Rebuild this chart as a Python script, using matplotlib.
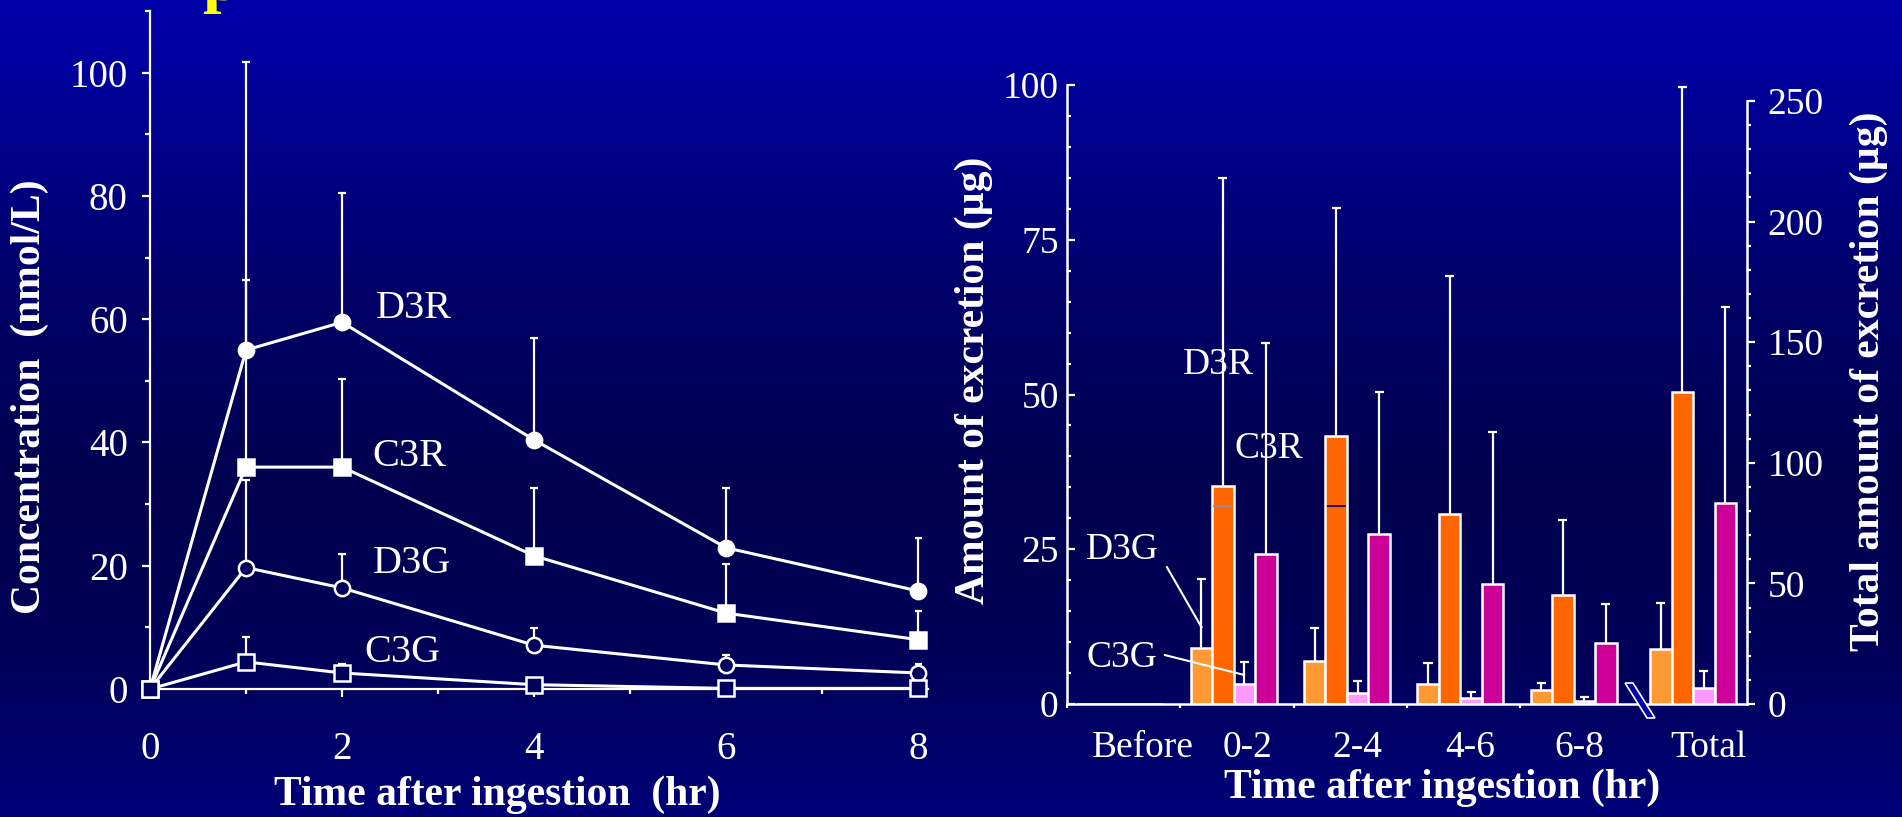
import numpy as np
import matplotlib.pyplot as plt
from matplotlib.patches import Polygon
from matplotlib.ticker import MultipleLocator, FixedLocator, FixedFormatter

plt.rcParams['font.family'] = ['Liberation Serif', 'DejaVu Serif']

# plasma concentration (nmol/L), mean and SD
time_hr = [0, 1, 2, 4, 6, 8]
d3r_conc = [0, 55.0, 59.5, 40.4, 22.9, 15.9]
d3r_conc_sd = [0, 46.8, 21.0, 16.6, 9.7, 8.6]
c3r_conc = [0, 36.0, 36.0, 21.6, 12.3, 8.0]
c3r_conc_sd = [0, 30.3, 14.3, 11.0, 8.0, 4.7]
d3g_conc = [0, 19.7, 16.4, 7.1, 3.9, 2.6]
d3g_conc_sd = [0, 14.2, 5.5, 2.8, 1.6, 1.4]
c3g_conc = [0, 4.4, 2.6, 0.7, 0.1, 0.1]
c3g_conc_sd = [0, 4.1, 1.4, 0.8, 0.3, 0.2]

# urinary excretion (ug) per collection period
periods = ['Before', '0-2', '2-4', '4-6', '6-8']
d3g_urine = [0, 9.0, 7.0, 3.2, 2.3]
d3g_urine_sd = [0, 11.2, 5.3, 3.4, 1.1]
d3r_urine = [0, 35.2, 43.3, 30.7, 17.6]
d3r_urine_sd = [0, 49.8, 36.8, 38.5, 12.1]
c3g_urine = [0, 3.2, 1.8, 1.0, 0.5]
c3g_urine_sd = [0, 3.6, 1.9, 0.9, 0.6]
c3r_urine = [0, 24.2, 27.5, 19.4, 9.8]
c3r_urine_sd = [0, 34.1, 22.9, 24.6, 6.3]

# total excretion (ug), right-hand scale
total_names = ['D3G', 'D3R', 'C3G', 'C3R']
total_urine = [22.8, 129.5, 6.6, 83.4]
total_urine_sd = [19.1, 126.5, 7.1, 81.3]

W, H = 1902, 817
WHITE = 'white'
bar_colors = ['#ff9933', '#ff6600', '#ff99ff', '#cc0099']


def up_err(ax, x, y, sd, cap, lw=1.6, z=1):
    x = np.asarray(x, float)
    top = np.asarray(y, float) + np.asarray(sd, float)
    ax.vlines(x, y, top, color=WHITE, lw=lw, zorder=z, clip_on=False)
    ax.hlines(top, x - cap, x + cap, color=WHITE, lw=lw, zorder=z, clip_on=False)


fig = plt.figure(figsize=(W / 100, H / 100), dpi=100)

# blue slide background
bg = fig.add_axes([0, 0, 1, 1], zorder=-10)
pos = np.linspace(0, 1, 400)
blue = np.interp(pos, [0, 0.12, 0.35, 0.6, 0.8, 1.0], [170, 150, 105, 78, 88, 120])
grad = np.zeros((400, 1, 3))
grad[:, 0, 2] = blue / 255
bg.imshow(grad, aspect='auto', extent=[0, 1, 0, 1], origin='upper')
bg.set_axis_off()

# heading letter running off the top edge
fig.text(202 / W, 1.0, 'p', color='#ffff00', fontsize=48, fontweight='bold',
         va='baseline', ha='left')

# ---- left: plasma concentration ----
ax1 = fig.add_axes([150 / W, (H - 689) / H, (928 - 150) / W, (689 - 11) / H])
ax1.set_facecolor('none')
ax1.set_xlim(0, 8.1)
ax1.set_ylim(0, 110)
for s in ['top', 'right']:
    ax1.spines[s].set_visible(False)
for s in ['left', 'bottom']:
    ax1.spines[s].set_color(WHITE)
    ax1.spines[s].set_linewidth(1.6)
ax1.set_xticks([0, 2, 4, 6, 8])
ax1.xaxis.set_minor_locator(MultipleLocator(1))
ax1.set_yticks([0, 20, 40, 60, 80, 100])
ax1.yaxis.set_minor_locator(MultipleLocator(10))
ax1.tick_params(colors=WHITE, width=1.6, length=6, labelsize=28)
ax1.tick_params(which='minor', colors=WHITE, width=1.6, length=3.5)
ax1.tick_params(axis='x', pad=24)
ax1.tick_params(axis='y', pad=10)

series = [
    (d3r_conc, d3r_conc_sd, 'o', WHITE),
    (c3r_conc, c3r_conc_sd, 's', WHITE),
    (d3g_conc, d3g_conc_sd, 'o', '#00005c'),
    (c3g_conc, c3g_conc_sd, 's', '#00005c'),
]
for vals, sd, mk, face in series:
    up_err(ax1, time_hr[1:], vals[1:], sd[1:], 0.04, lw=1.6, z=2)
    ax1.plot(time_hr, vals, color=WHITE, lw=2.2, marker=mk, ms=11,
             mfc=face, mec=WHITE, mew=1.8, zorder=3, clip_on=False)

for name, x, y in [('D3R', 2.35, 61.8), ('C3R', 2.32, 37.7),
                   ('D3G', 2.32, 20.4), ('C3G', 2.23, 6.0)]:
    ax1.text(x, y, name, color=WHITE, fontsize=29, ha='left', va='center')

fig.text(30 / W, 1 - 397 / H, 'Concentration  (nmol/L)', rotation=90, color=WHITE,
         fontsize=30, fontweight='bold', ha='center', va='center')
fig.text(497 / W, 1 - 795 / H, 'Time after ingestion  (hr)',
         color=WHITE, fontsize=30, fontweight='bold', ha='center', va='center')

# ---- right: urinary excretion ----
ax2 = fig.add_axes([1067 / W, (H - 704) / H, 680 / W, (704 - 85) / H])
ax2.set_facecolor('none')
ax2.set_xlim(0, 6)
ax2.set_ylim(0, 100)
ax3 = ax2.twinx()
ax3.set_ylim(0, 250 * 619 / 603)

for s in ['top', 'right']:
    ax2.spines[s].set_visible(False)
for s in ['left', 'bottom']:
    ax2.spines[s].set_color(WHITE)
    ax2.spines[s].set_linewidth(1.8)
for s in ['top', 'left', 'bottom']:
    ax3.spines[s].set_visible(False)
ax3.spines['right'].set_color(WHITE)
ax3.spines['right'].set_linewidth(1.8)
ax3.spines['right'].set_bounds(0, 250)

ax2.set_yticks([0, 25, 50, 75, 100])
ax2.yaxis.set_minor_locator(MultipleLocator(5))
ax2.tick_params(axis='y', which='both', direction='in', colors=WHITE, width=1.6,
                labelsize=27, pad=6)
ax2.tick_params(axis='y', which='major', length=6)
ax2.tick_params(axis='y', which='minor', length=3)

ax2.set_xticks([0, 1, 2, 3, 4])
ax2.set_xticklabels([])
ax2.tick_params(axis='x', which='major', colors=WHITE, width=1.6, length=3)
label_pos = [0.67, 1.59, 2.56, 3.56, 4.52, 5.66]
ax2.xaxis.set_minor_locator(FixedLocator(label_pos))
ax2.xaxis.set_minor_formatter(FixedFormatter(periods + ['Total']))
ax2.tick_params(axis='x', which='minor', length=0, labelsize=27, labelcolor=WHITE, pad=19)

ax3.set_yticks([0, 50, 100, 150, 200, 250])
ax3.yaxis.set_minor_locator(FixedLocator(np.arange(0, 251, 10)))
ax3.tick_params(axis='y', which='both', direction='out', colors=WHITE, width=1.6,
                labelsize=27, pad=9)
ax3.tick_params(axis='y', which='major', length=6)
ax3.tick_params(axis='y', which='minor', length=3)

bw = 0.19
grp = np.arange(len(periods))
period_sets = [(d3g_urine, d3g_urine_sd), (d3r_urine, d3r_urine_sd),
               (c3g_urine, c3g_urine_sd), (c3r_urine, c3r_urine_sd)]
for k, ((vals, sd), col) in enumerate(zip(period_sets, bar_colors)):
    left = grp + 0.09 + k * bw
    up_err(ax2, left[1:] + bw / 2, vals[1:], sd[1:], 0.04, z=1)
    ax2.bar(left, vals, width=bw, align='edge', color=col, edgecolor=WHITE,
            linewidth=1.8, zorder=2)

tot_left = 5 + 0.144 + np.arange(len(total_names)) * bw
up_err(ax3, tot_left + bw / 2, total_urine, total_urine_sd, 0.04, z=1)
ax3.bar(tot_left, total_urine, width=bw, align='edge', color=bar_colors,
        edgecolor=WHITE, linewidth=1.8, zorder=2)

# thin line crossing the D3R bars
for x0, c in [(1 + 0.09 + bw, '#8090c0'), (2 + 0.09 + bw, '#000066'),
              (5.144 + bw, '#000066')]:
    ax2.hlines(32, x0 + 0.01, x0 + bw - 0.01, color=c, lw=1.2, zorder=3)

# axis break between 6-8 and Total
ax2.add_patch(Polygon([(4.924, 3.39), (4.994, 3.39), (5.188, -2.26), (5.118, -2.26)],
                      closed=True, facecolor='#0000aa', edgecolor=WHITE, lw=1.2,
                      zorder=6, clip_on=False))

for name, x, y in [('D3R', 1.02, 54.8), ('C3R', 1.48, 41.3),
                   ('D3G', 0.17, 24.9), ('C3G', 0.17, 7.4)]:
    ax2.text(x, y, name, color=WHITE, fontsize=27, ha='left', va='center', zorder=4)
ax2.plot([0.882, 1.187], [22.1, 12.4], color=WHITE, lw=1.5, zorder=4)
ax2.plot([0.865, 1.562], [7.9, 4.7], color=WHITE, lw=1.5, zorder=4)

fig.text(974 / W, 1 - 380 / H, 'Amount of excretion (µg)', rotation=90, color=WHITE,
         fontsize=30, fontweight='bold', ha='center', va='center')
fig.text(1869 / W, 1 - 381 / H, 'Total amount of excretion (µg)', rotation=90,
         color=WHITE, fontsize=30, fontweight='bold', ha='center', va='center')
fig.text(1442 / W, 1 - 788 / H, 'Time after ingestion (hr)', color=WHITE,
         fontsize=30, fontweight='bold', ha='center', va='center')

fig.savefig('out.png', dpi=100)
